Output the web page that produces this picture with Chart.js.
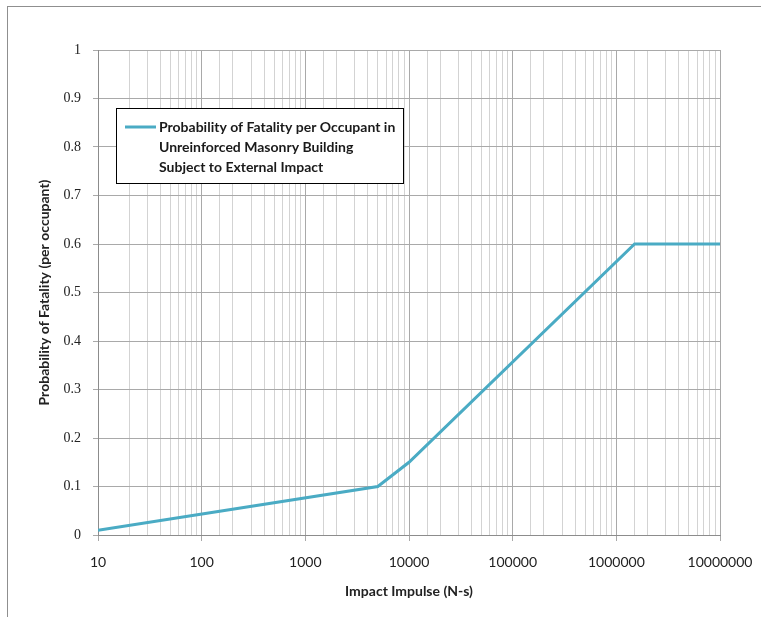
<!DOCTYPE html>
<html>
<head>
<meta charset="utf-8">
<script src="https://cdn.jsdelivr.net/npm/chart.js@4/dist/chart.umd.min.js"></script>
<style>
  html, body { margin: 0; padding: 0; background: #fff; overflow: hidden; }
  #wrap { position: relative; width: 761px; height: 617px; }
  #frame { position: absolute; left: 7px; top: 6px; width: 800px; height: 700px;
           border: 1.5px solid #8f8f8f; box-sizing: border-box; }
  canvas { position: absolute; left: 0; top: 0; }
</style>
</head>
<body>
<div id="wrap">
  <div id="frame"></div>
  <canvas id="c" width="761" height="617"></canvas>
</div>
<script>
// Impact impulse (N-s) breakpoints and the fatality probability at each
const impulse = [10, 5000, 10000, 1500000, 10000000];
const fatality = [0.01, 0.1, 0.15, 0.6, 0.6];

// Decade labels on the log axis
const xTickLabels = ['10', '100', '1000', '10000', '100000', '1000000', '10000000'];

const seriesLabel = 'Probability of Fatality per Occupant in Unreinforced Masonry Building Subject to External Impact';
const legendLines = ['Probability of Fatality per Occupant in', 'Unreinforced Masonry Building', 'Subject to External Impact'];

const lineColor = '#4aabc4';

function decadeIndex(v) {
  const l = Math.log10(v);
  const r = Math.round(l);
  return Math.abs(l - r) < 1e-6 ? r - 1 : -1;
}

// Boxed legend drawn inside the plot area
const boxedLegend = {
  id: 'boxedLegend',
  afterDatasetsDraw(chart) {
    const ctx = chart.ctx;
    const x0 = 116.5, y0 = 108.5, w = 287, h = 75;
    ctx.save();
    ctx.fillStyle = '#ffffff';
    ctx.fillRect(x0, y0, w, h);
    ctx.strokeStyle = '#000000';
    ctx.lineWidth = 1;
    ctx.strokeRect(x0, y0, w, h);
    ctx.strokeStyle = lineColor;
    ctx.lineWidth = 3;
    ctx.beginPath();
    ctx.moveTo(125, 127);
    ctx.lineTo(156, 127);
    ctx.stroke();
    ctx.fillStyle = '#1a1a1a';
    ctx.font = 'bold 14px Lato';
    ctx.textBaseline = 'middle';
    ctx.textAlign = 'left';
    legendLines.forEach((t, i) => ctx.fillText(t, 159, 127 + i * 20));
    ctx.restore();
  }
};

new Chart(document.getElementById('c'), {
  type: 'line',
  data: {
    datasets: [{
      label: seriesLabel,
      data: impulse.map((x, i) => ({ x: x, y: fatality[i] })),
      borderColor: lineColor,
      borderWidth: 3,
      pointRadius: 0,
      tension: 0,
      fill: false
    }]
  },
  options: {
    responsive: false,
    animation: false,
    layout: { padding: { top: 50, right: 41, left: 33, bottom: 13 } },
    plugins: { legend: { display: false }, tooltip: { enabled: false } },
    scales: {
      x: {
        type: 'logarithmic',
        min: 10,
        max: 10000000,
        afterFit(scale) {
          scale.height = 617 - 13 - 535;
          scale.paddingLeft = 0;
          scale.paddingRight = 0;
        },
        grid: {
          color: (c) => (c.tick && decadeIndex(c.tick.value) >= 0) ? '#a9a9a9' : '#d3d3d3',
          tickColor: (c) => (c.tick && decadeIndex(c.tick.value) >= 0) ? '#a9a9a9' : 'rgba(0,0,0,0)',
          tickLength: 6,
          lineWidth: 1
        },
        border: { color: '#8c8c8c', width: 1 },
        ticks: {
          autoSkip: false,
          maxRotation: 0,
          padding: 13,
          color: '#222',
          font: { family: 'Lato', size: 14 },
          callback: (v) => { const i = decadeIndex(v); return i >= 0 ? xTickLabels[i] : ''; }
        },
        title: {
          display: true,
          text: 'Impact Impulse (N-s)',
          color: '#222',
          font: { family: 'Lato', size: 14, weight: 'bold' },
          padding: { top: 0, bottom: 4 }
        }
      },
      y: {
        min: 0,
        max: 1,
        afterFit(scale) { scale.width = 98 - 33; },
        grid: { color: '#a9a9a9', tickColor: '#a9a9a9', tickLength: 5, lineWidth: 1 },
        border: { color: '#8c8c8c', width: 1 },
        ticks: {
          stepSize: 0.1,
          padding: 12,
          color: '#222',
          font: { family: 'Liberation Serif', size: 14 },
          callback: (v) => String(+(+v).toFixed(1))
        },
        title: {
          display: true,
          text: 'Probability of Fatality (per occupant)',
          color: '#222',
          font: { family: 'Lato', size: 14, weight: 'bold' },
          padding: { top: 3, bottom: 0 }
        }
      }
    }
  },
  plugins: [boxedLegend]
});
</script>
</body>
</html>
